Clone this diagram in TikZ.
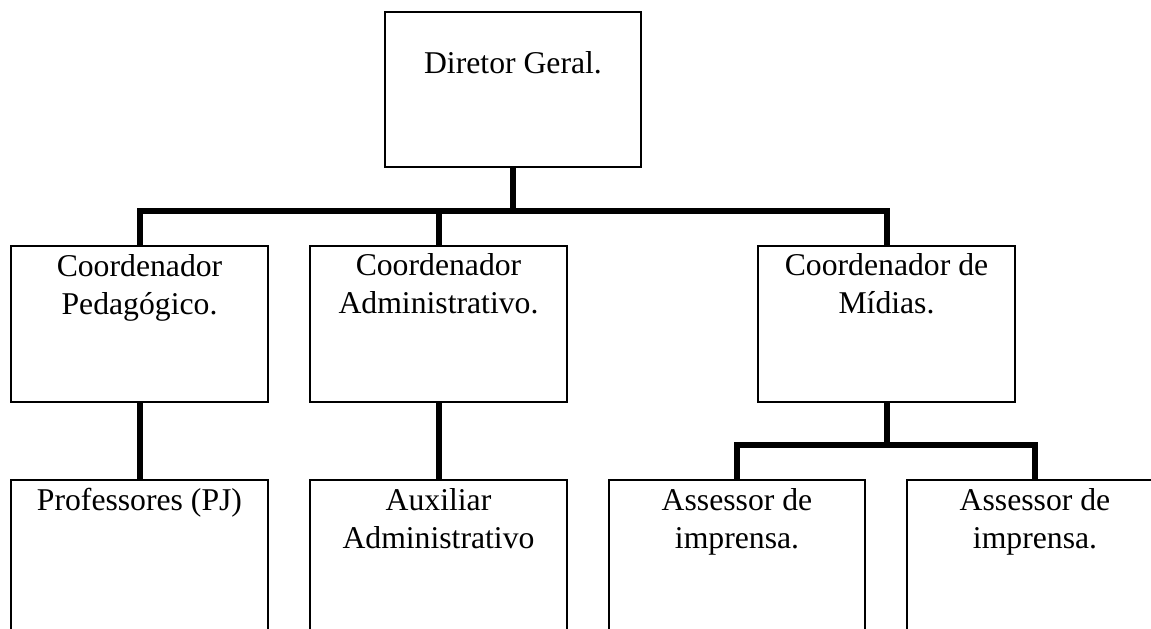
\documentclass[tikz,border=0pt]{standalone}
\usepackage{fontspec}
\setmainfont{Liberation Serif}
\begin{document}
\begin{tikzpicture}[x=1bp,y=-1bp,
  box/.style={draw=black, line width=1.5bp, fill=white, rectangle, inner sep=0pt,
              minimum width=256bp, minimum height=156bp},
  txt/.style={font=\fontsize{31.7bp}{38bp}\selectfont, align=center, inner sep=0pt, anchor=base},
  conn/.style={draw=black, line width=6bp}]
\useasboundingbox (0,0) rectangle (1151,629);
\clip (0,0) rectangle (1151,629);
\fill[white] (0,0) rectangle (1151,629);
% boxes
\node[box, minimum height=155bp] (dir) at (513,89.5) {};
\node[box, minimum width=257bp] (cp) at (139.5,324) {};
\node[box, minimum width=257bp] (ca) at (438.5,324) {};
\node[box, minimum width=257bp] (cm) at (886.5,324) {};
\node[box, minimum width=257bp] (prof) at (139.5,558) {};
\node[box, minimum width=257bp] (aux) at (438.5,558) {};
\node[box] (as1) at (737,558) {};
\node[box] (as2) at (1035,558) {};
% texts (anchor base = baseline of the last line)
\node[txt] (dirT) at (513,74) {Diretor Geral.};
\node[txt] (cpT) at (139.5,315) {Coordenador\\Pedagógico.};
\node[txt] (caT) at (438.5,314) {Coordenador\\Administrativo.};
\node[txt] (cmT) at (886.5,314) {Coordenador de\\Mídias.};
\node[txt] (profT) at (139.5,510) {Professores (PJ)};
\node[txt] (auxT) at (438.5,548) {Auxiliar\\Administrativo};
\node[txt] (as1T) at (737,548) {Assessor de\\imprensa.};
\node[txt] (as2T) at (1035,548) {Assessor de\\imprensa.};
% connector levels
\coordinate (bar1) at (0,211);
\coordinate (bar2) at (0,445);
% connectors
\draw[conn] (dir.south) -- (dir.south |- bar1);
\draw[conn] (cp.north) -- (cp.north |- bar1) -- (cm.north |- bar1) -- (cm.north);
\draw[conn] (ca.north) -- (ca.north |- bar1);
\draw[conn] (cp.south) -- (prof.north);
\draw[conn] (ca.south) -- (aux.north);
\draw[conn] (cm.south) -- (cm.south |- bar2);
\draw[conn] (as1.north) -- (as1.north |- bar2) -- (as2.north |- bar2) -- (as2.north);
\end{tikzpicture}
\end{document}
